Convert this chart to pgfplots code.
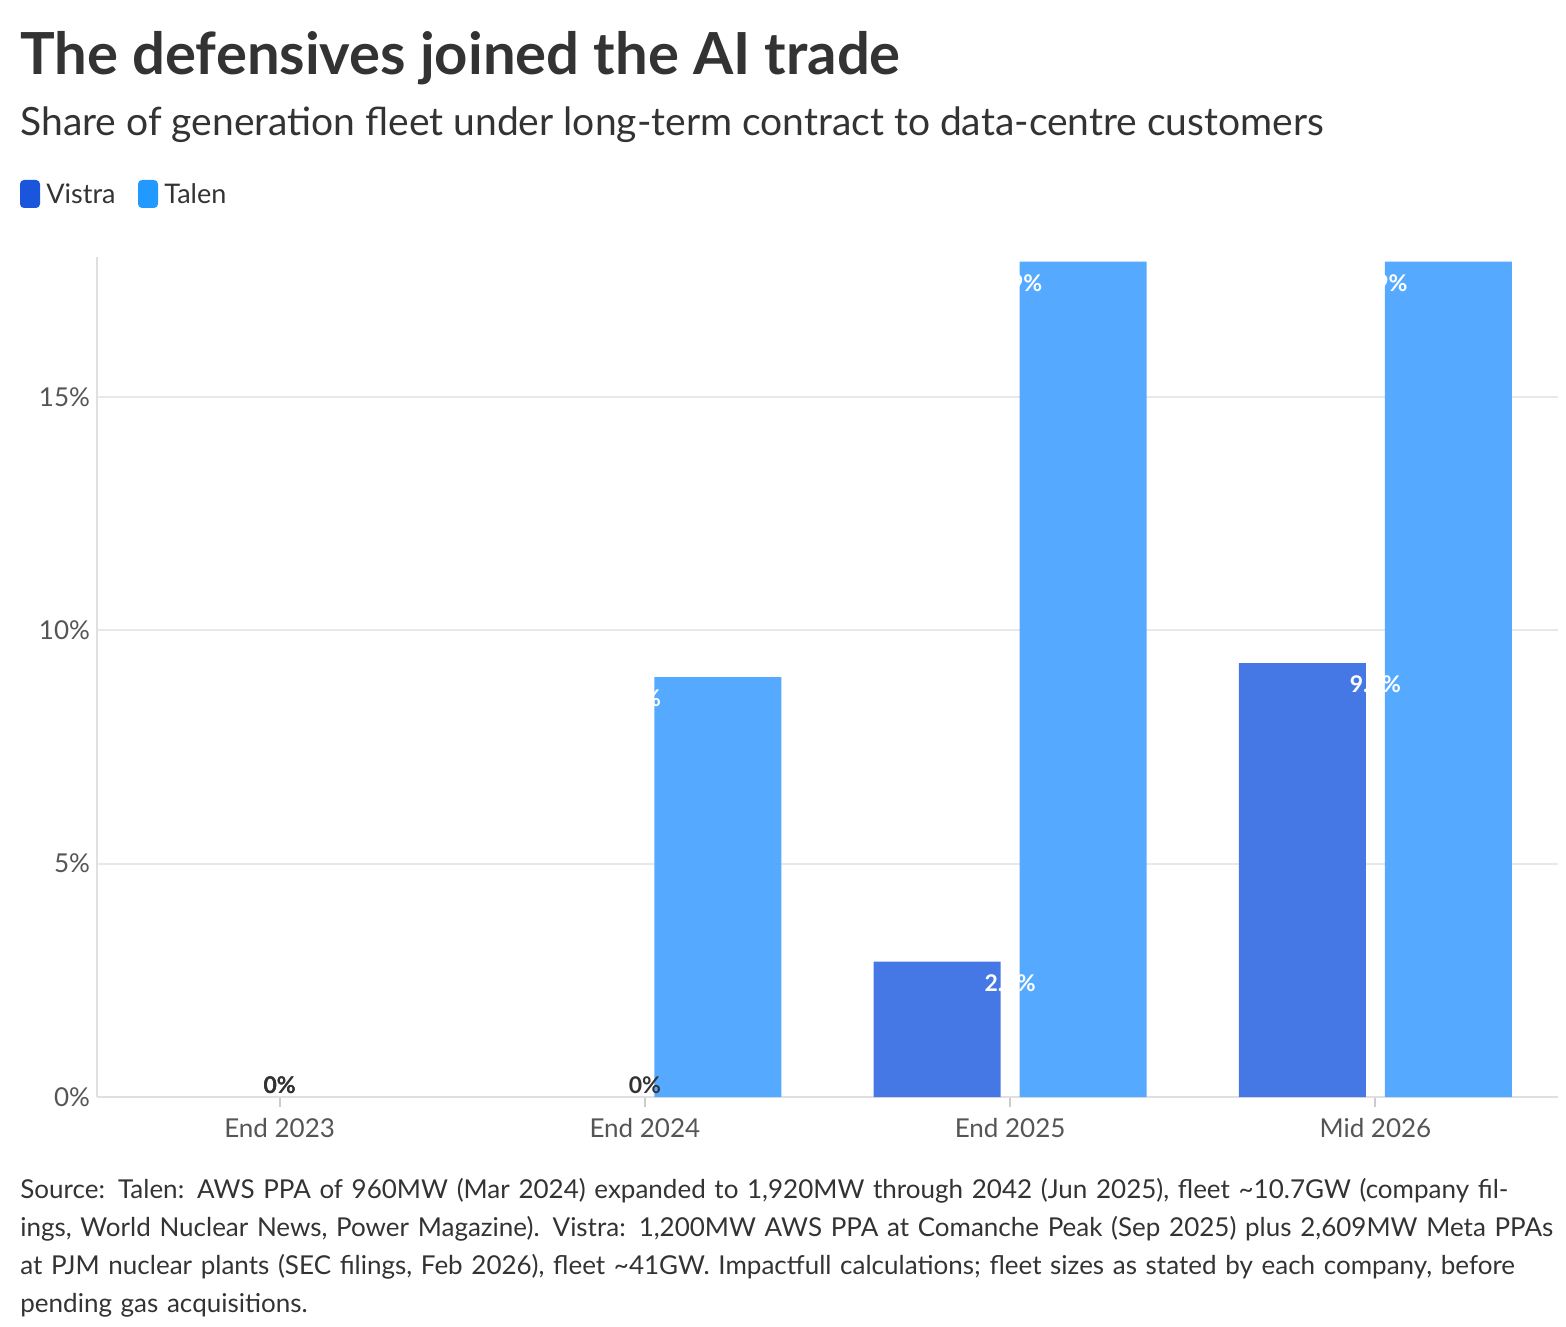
\documentclass[border=0pt]{standalone}
\usepackage{pgfplots}
\pgfplotsset{compat=1.18}
\usepackage{fontspec}
\setmainfont{Lato}
\definecolor{vis}{HTML}{4577E5}
\definecolor{tal}{HTML}{55AAFF}
\definecolor{visL}{HTML}{1A56DB}
\definecolor{talL}{HTML}{2299FF}
\definecolor{txt}{HTML}{333333}
\definecolor{gtx}{HTML}{555555}
\begin{document}
\begin{tikzpicture}
\path (0pt,0pt) rectangle (783pt,-663pt);
\node[anchor=base west,inner sep=0,text=txt,font=\fontsize{29}{34}\selectfont\bfseries] at (10pt,-37.5pt) {The defensives joined the AI trade};
\node[anchor=base west,inner sep=0,text=txt,font=\fontsize{19.5}{24}\selectfont] at (10pt,-68pt) {Share of generation fleet under long-term contract to data-centre customers};
\fill[visL,rounded corners=2pt] (10pt,-104pt) rectangle (20pt,-90pt);
\node[anchor=base west,inner sep=0,text=txt,font=\fontsize{13.5}{16}\selectfont] at (23pt,-102pt) {Vistra};
\fill[talL,rounded corners=2pt] (69pt,-104pt) rectangle (79pt,-90pt);
\node[anchor=base west,inner sep=0,text=txt,font=\fontsize{13.5}{16}\selectfont] at (82pt,-102pt) {Talen};
\begin{axis}[at={(48.5pt,-548.5pt)},anchor=south west,scale only axis,
  width=730.5pt,height=420pt,
  xmin=-0.5,xmax=3.5,ymin=0,ymax=18,
  ybar,bar width=63.5pt,
  xtick={0,1,2,3},xticklabels={End 2023,End 2024,End 2025,Mid 2026},
  ytick={0,5,10,15},yticklabels={0\%,5\%,10\%,15\%},
  ymajorgrids,grid style={draw=black!9,line width=1pt},
  axis x line*=bottom,axis y line*=left,
  axis line style={draw=black!12,line width=1pt},
  x axis line style={-},y axis line style={-},
  major tick length=5pt,xtick style={draw=black!20,line width=1pt},
  ytick style={draw=none},
  xtick align=outside,
  ticklabel style={text=gtx,font=\fontsize{13}{15}\selectfont},
  xticklabel style={yshift=-2pt},
  nodes near coords={\pgfmathprintnumber{\pgfplotspointmeta}\%},
  every node near coord/.style={anchor=north,yshift=-3pt,text=white,font=\fontsize{11.5}{13}\selectfont\bfseries},
  /pgf/number format/assume math mode=true,
]
\addplot[fill=vis,draw=none,bar shift=-36.5pt] coordinates {(2,2.9) (3,9.3)};
\addplot[fill=tal,draw=none,bar shift=36.5pt] coordinates {(1,9) (2,17.9) (3,17.9)};
\addplot[draw=none,fill=none,bar shift=-36.5pt,forget plot,
  every node near coord/.style={anchor=south,yshift=-2pt,text=txt,font=\fontsize{11.5}{13}\selectfont\bfseries}] coordinates {(0,0) (1,0)};
\addplot[draw=none,fill=none,bar shift=36.5pt,forget plot,
  every node near coord/.style={anchor=south,yshift=-2pt,text=txt,font=\fontsize{11.5}{13}\selectfont\bfseries}] coordinates {(0,0)};
\end{axis}
\node[anchor=north west,inner sep=0,text width=770pt,align=left,text=txt,font=\fontsize{13}{19}\selectfont] at (10pt,-589pt) {\hyphenpenalty=10000 Source: Talen: AWS PPA of 960MW (Mar 2024) expanded to 1,920MW through 2042 (Jun 2025), fleet \textasciitilde10.7GW (company filings, World Nuclear News, Power Magazine). Vistra: 1,200MW AWS PPA at Comanche Peak (Sep 2025) plus 2,609MW Meta PPAs at PJM nuclear plants (SEC filings, Feb 2026), fleet \textasciitilde41GW. Impactfull calculations; fleet sizes as stated by each company, before pending gas acquisitions.};
\end{tikzpicture}
\end{document}
